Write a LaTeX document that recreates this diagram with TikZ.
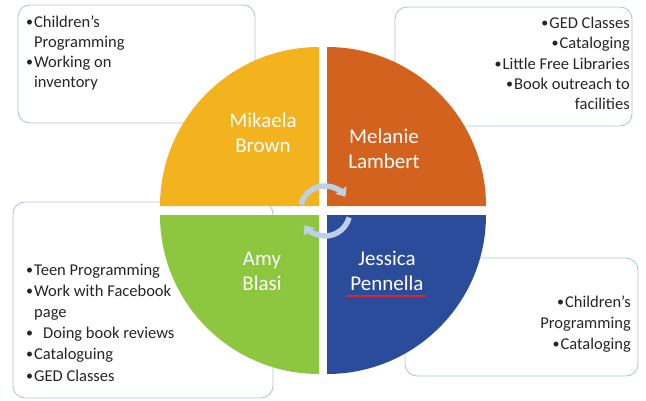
\documentclass[tikz,border=0pt]{standalone}
\usepackage{fontspec}
\setmainfont{Carlito}
\usetikzlibrary{arrows.meta}
\definecolor{qyellow}{HTML}{F2B31E}
\definecolor{qorange}{HTML}{D3621F}
\definecolor{qgreen}{HTML}{8DC63F}
\definecolor{qblue}{HTML}{2B4B9B}
\definecolor{boxline}{HTML}{A9C7E6}
\definecolor{arrowc}{HTML}{BCD0E8}
\definecolor{txt}{HTML}{262626}
\definecolor{spellred}{HTML}{E0262B}
\tikzset{
  infobox/.style={draw=boxline, line width=0.9pt, fill=white, rounded corners=12pt},
  item/.style={inner sep=0pt, text=txt, font=\fontsize{16.5}{20}\selectfont},
  lft/.style={item, anchor=base west},
  rgt/.style={item, anchor=base east},
  personname/.style={inner sep=0pt, text=white, align=center, font=\fontsize{21}{25}\selectfont, anchor=base},
  cyc/.style={draw=arrowc, line width=5.5pt, -{Triangle[width=13pt,length=8pt]}}
}
\newcommand{\bul}{\makebox[8pt][l]{\raisebox{0.5pt}{\scalebox{0.85}{•}}}}
\begin{document}
\begin{tikzpicture}[x=1pt,y=-1pt]
\useasboundingbox (0,0) rectangle (646,400);
% boxes
\path[infobox] (18,5) rectangle (255,123);
\path[infobox] (395,7) rectangle (632,126);
\path[infobox] (13,202) rectangle (273,398);
\path[infobox] (405,258) rectangle (638,376);
% quadrants (y axis points down: angle 270 is up)
\fill[qyellow] (319,206) -- (160,206) arc[start angle=180, end angle=270, radius=159] -- cycle;
\fill[qorange] (327,206) -- (327,47) arc[start angle=-90, end angle=0, radius=159] -- cycle;
\fill[qgreen] (319,215) -- (319,374) arc[start angle=90, end angle=180, radius=159] -- cycle;
\fill[qblue] (327,215) -- (486,215) arc[start angle=0, end angle=90, radius=159] -- cycle;
% cycle arrows
\coordinate (ctr) at (325,211);
\draw[cyc] ([shift={(-165:25)}]ctr) arc[start angle=-165, end angle=-35, radius=25];
\draw[cyc] ([shift={(15:25)}]ctr) arc[start angle=15, end angle=145, radius=25];
% names
\node[personname] (mb) at (263,152) {Mikaela\\Brown};
\node[personname] (ml) at (384,168) {Melanie\\Lambert};
\node[personname] (ab) at (262,290) {Amy\\Blasi};
\node[personname] (jp) at (387,290) {Jessica\\Pennella};
\draw[spellred, line width=1.2pt] (346,296) -- (426,296);
% box 1
\node[lft] (a1) at (26,27) {\bul Children’s};
\node[lft] (a2) at (34,47) {Programming};
\node[lft] (a3) at (26,67) {\bul Working on};
\node[lft] (a4) at (34,87) {inventory};
% box 2
\node[rgt] (b1) at (630,28) {\bul GED Classes};
\node[rgt] (b2) at (630,48) {\bul Cataloging};
\node[rgt] (b3) at (630,69) {\bul Little Free Libraries};
\node[rgt] (b4) at (630,89) {\bul Book outreach to};
\node[rgt] (b5) at (630,109) {facilities};
% box 3
\node[lft] (c1) at (26,275) {\bul Teen Programming};
\node[lft] (c2) at (26,296) {\bul Work with Facebook};
\node[lft] (c3) at (34,317) {page};
\node[lft] (c4) at (26,338) {\bul\hspace{9pt}Doing book reviews};
\node[lft] (c5) at (26,359) {\bul Cataloguing};
\node[lft] (c6) at (26,381) {\bul GED Classes};
% box 4
\node[rgt] (d1) at (631,307) {\bul Children’s};
\node[rgt] (d2) at (631,328) {Programming};
\node[rgt] (d3) at (631,349) {\bul Cataloging};
\end{tikzpicture}
\end{document}
